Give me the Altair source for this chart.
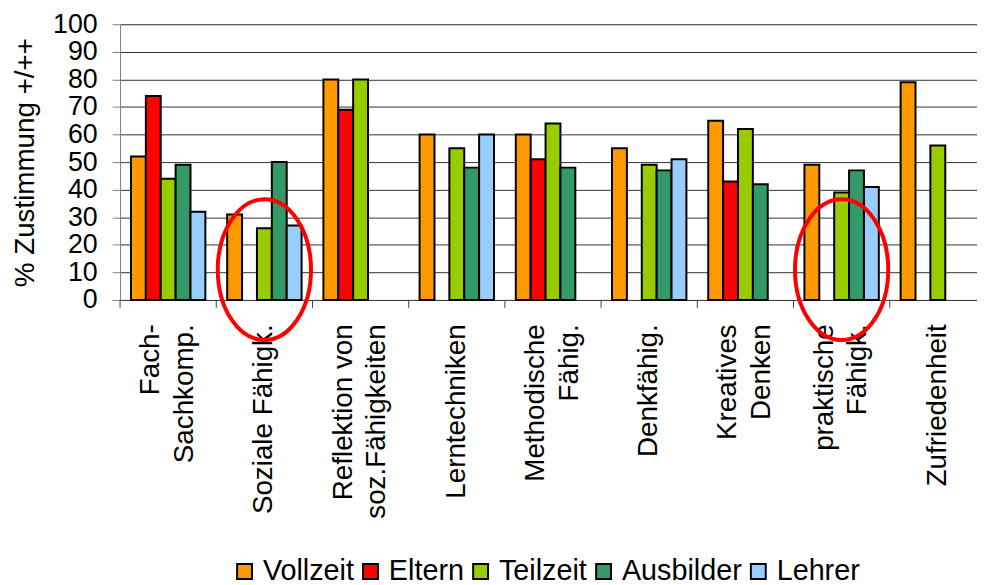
import altair as alt
import pandas as pd

# ---------------- data ----------------
categories = ["Fach-|Sachkomp.", "Soziale Fähigk.", "Reflektion von|soz.Fähigkeiten",
              "Lerntechniken", "Methodische|Fähig.", "Denkfähig.", "Kreatives|Denken",
              "praktische|Fähigk.", "Zufriedenheit"]
# non-breaking spaces after the first line so that the two lines of a label look centred
first_line_pad = [5, 0, 1, 0, 5, 0, 1, 2, 0]

series = ["Vollzeit", "Eltern", "Teilzeit", "Ausbilder", "Lehrer"]
colors = ["#FF9900", "#FF0000", "#99CC00", "#339966", "#99CCFF"]

vollzeit = [52, 31, 80, 60, 60, 55, 65, 49, 79]
eltern = [74, None, 69, None, 51, None, 43, None, None]
teilzeit = [44, 26, 80, 55, 64, 49, 62, 39, 56]
ausbilder = [49, 50, None, 48, 48, 47, 42, 47, None]
lehrer = [32, 27, None, 60, None, 51, None, 41, None]

highlighted = ["Soziale Fähigk.", "praktische|Fähigk."]
highlight_level = [11, 11]

y_ticks = list(range(0, 101, 10))

# ---------------- tables ----------------
def display(cat):
    i = categories.index(cat)
    parts = cat.split("|")
    parts[0] = parts[0] + "\u00a0" * first_line_pad[i]
    return "|".join(parts)

labels = [display(c) for c in categories]

rows = []
for name, vals in zip(series, [vollzeit, eltern, teilzeit, ausbilder, lehrer]):
    for c, v in zip(categories, vals):
        if v is not None:
            rows.append({"label": display(c), "series": name, "value": v})
df = pd.DataFrame(rows)

ticks_df = pd.DataFrame({"label": labels})
ell_df = pd.DataFrame({"label": [display(h) for h in highlighted], "value": highlight_level})

FONT = "Liberation Sans"

# ellipse outline made of four cubic Bezier segments (unit symbol space)
a, k = 0.662, 0.5523
ak = a * k
ELLIPSE = (f"M {-a} 0 C {-a} {-k} {-ak} -1 0 -1 C {ak} -1 {a} {-k} {a} 0 "
           f"C {a} {k} {ak} 1 0 1 C {-ak} 1 {-a} {k} {-a} 0 Z")

x_scale = alt.Scale(range=[0, 873], paddingInner=0, paddingOuter=0)
y_scale = alt.Scale(domain=[0, 100], nice=False)

x_axis = alt.Axis(title=None, labelAngle=270, labelAlign="right", labelBaseline="middle",
                  labelFontSize=28, labelLineHeight=34, labelPadding=24, ticks=False,
                  labelExpr="split(datum.value, '|')", labelLimit=400, labelOverlap=False,
                  labelOffset=alt.condition("indexof(datum.value, '|') >= 0",
                                            alt.value(-17), alt.value(0)),
                  labelColor="black", domainColor="#404040", labelFont=FONT)

y_axis = alt.Axis(title="% Zustimmung +/++", values=y_ticks, tickCount=len(y_ticks), grid=True,
                  gridColor="#333333", gridWidth=1, tickSize=8, tickColor="#808080",
                  domainColor="#808080", labelOverlap=False, labelFontSize=27, labelPadding=15,
                  labelColor="black", labelFont=FONT, titleFontSize=28,
                  titleFontWeight="normal", titleColor="black", titleFont=FONT, titlePadding=13)

bars = alt.Chart(df).mark_bar(stroke="black", strokeWidth=2).encode(
    x=alt.X("label:N", sort=labels, scale=x_scale, axis=x_axis),
    xOffset=alt.XOffset("series:N", sort=series,
                        scale=alt.Scale(domain=series, paddingInner=0, paddingOuter=0.733)),
    y=alt.Y("value:Q", scale=y_scale, axis=y_axis),
    color=alt.Color("series:N", sort=series, scale=alt.Scale(domain=series, range=colors),
                    legend=alt.Legend(title=None, orient="none", legendX=111, legendY=537,
                                      direction="horizontal", symbolType="square", symbolSize=225,
                                      symbolStrokeColor="black", symbolStrokeWidth=2,
                                      symbolOpacity=1, labelFontSize=29, labelOffset=4,
                                      columnPadding=2, padding=0, labelColor="black",
                                      labelFont=FONT)),
)

ticks = alt.Chart(ticks_df).mark_rule(color="#404040", strokeWidth=1, y2Offset=8).encode(
    x=alt.X("label:N", sort=labels, bandPosition=0, scale=x_scale, axis=x_axis),
    y=alt.Y(datum=0, scale=y_scale, axis=y_axis),
    y2=alt.datum(0),
)

ellipses = alt.Chart(ell_df).mark_point(shape=ELLIPSE, size=20164, filled=False,
                                        color="#FF0000", strokeWidth=4, opacity=1).encode(
    x=alt.X("label:N", sort=labels, scale=x_scale, axis=x_axis),
    y=alt.Y("value:Q", scale=y_scale, axis=y_axis),
)

chart = alt.layer(bars, ticks, ellipses).properties(
    width=864, height=278,
    autosize=alt.AutoSizeParams(type="none"),
    padding={"left": 113, "top": 14, "right": 0, "bottom": 285},
).configure_view(stroke=None).configure(font=FONT)

chart.save("out.html", embed_options={"renderer": "svg", "actions": False})
